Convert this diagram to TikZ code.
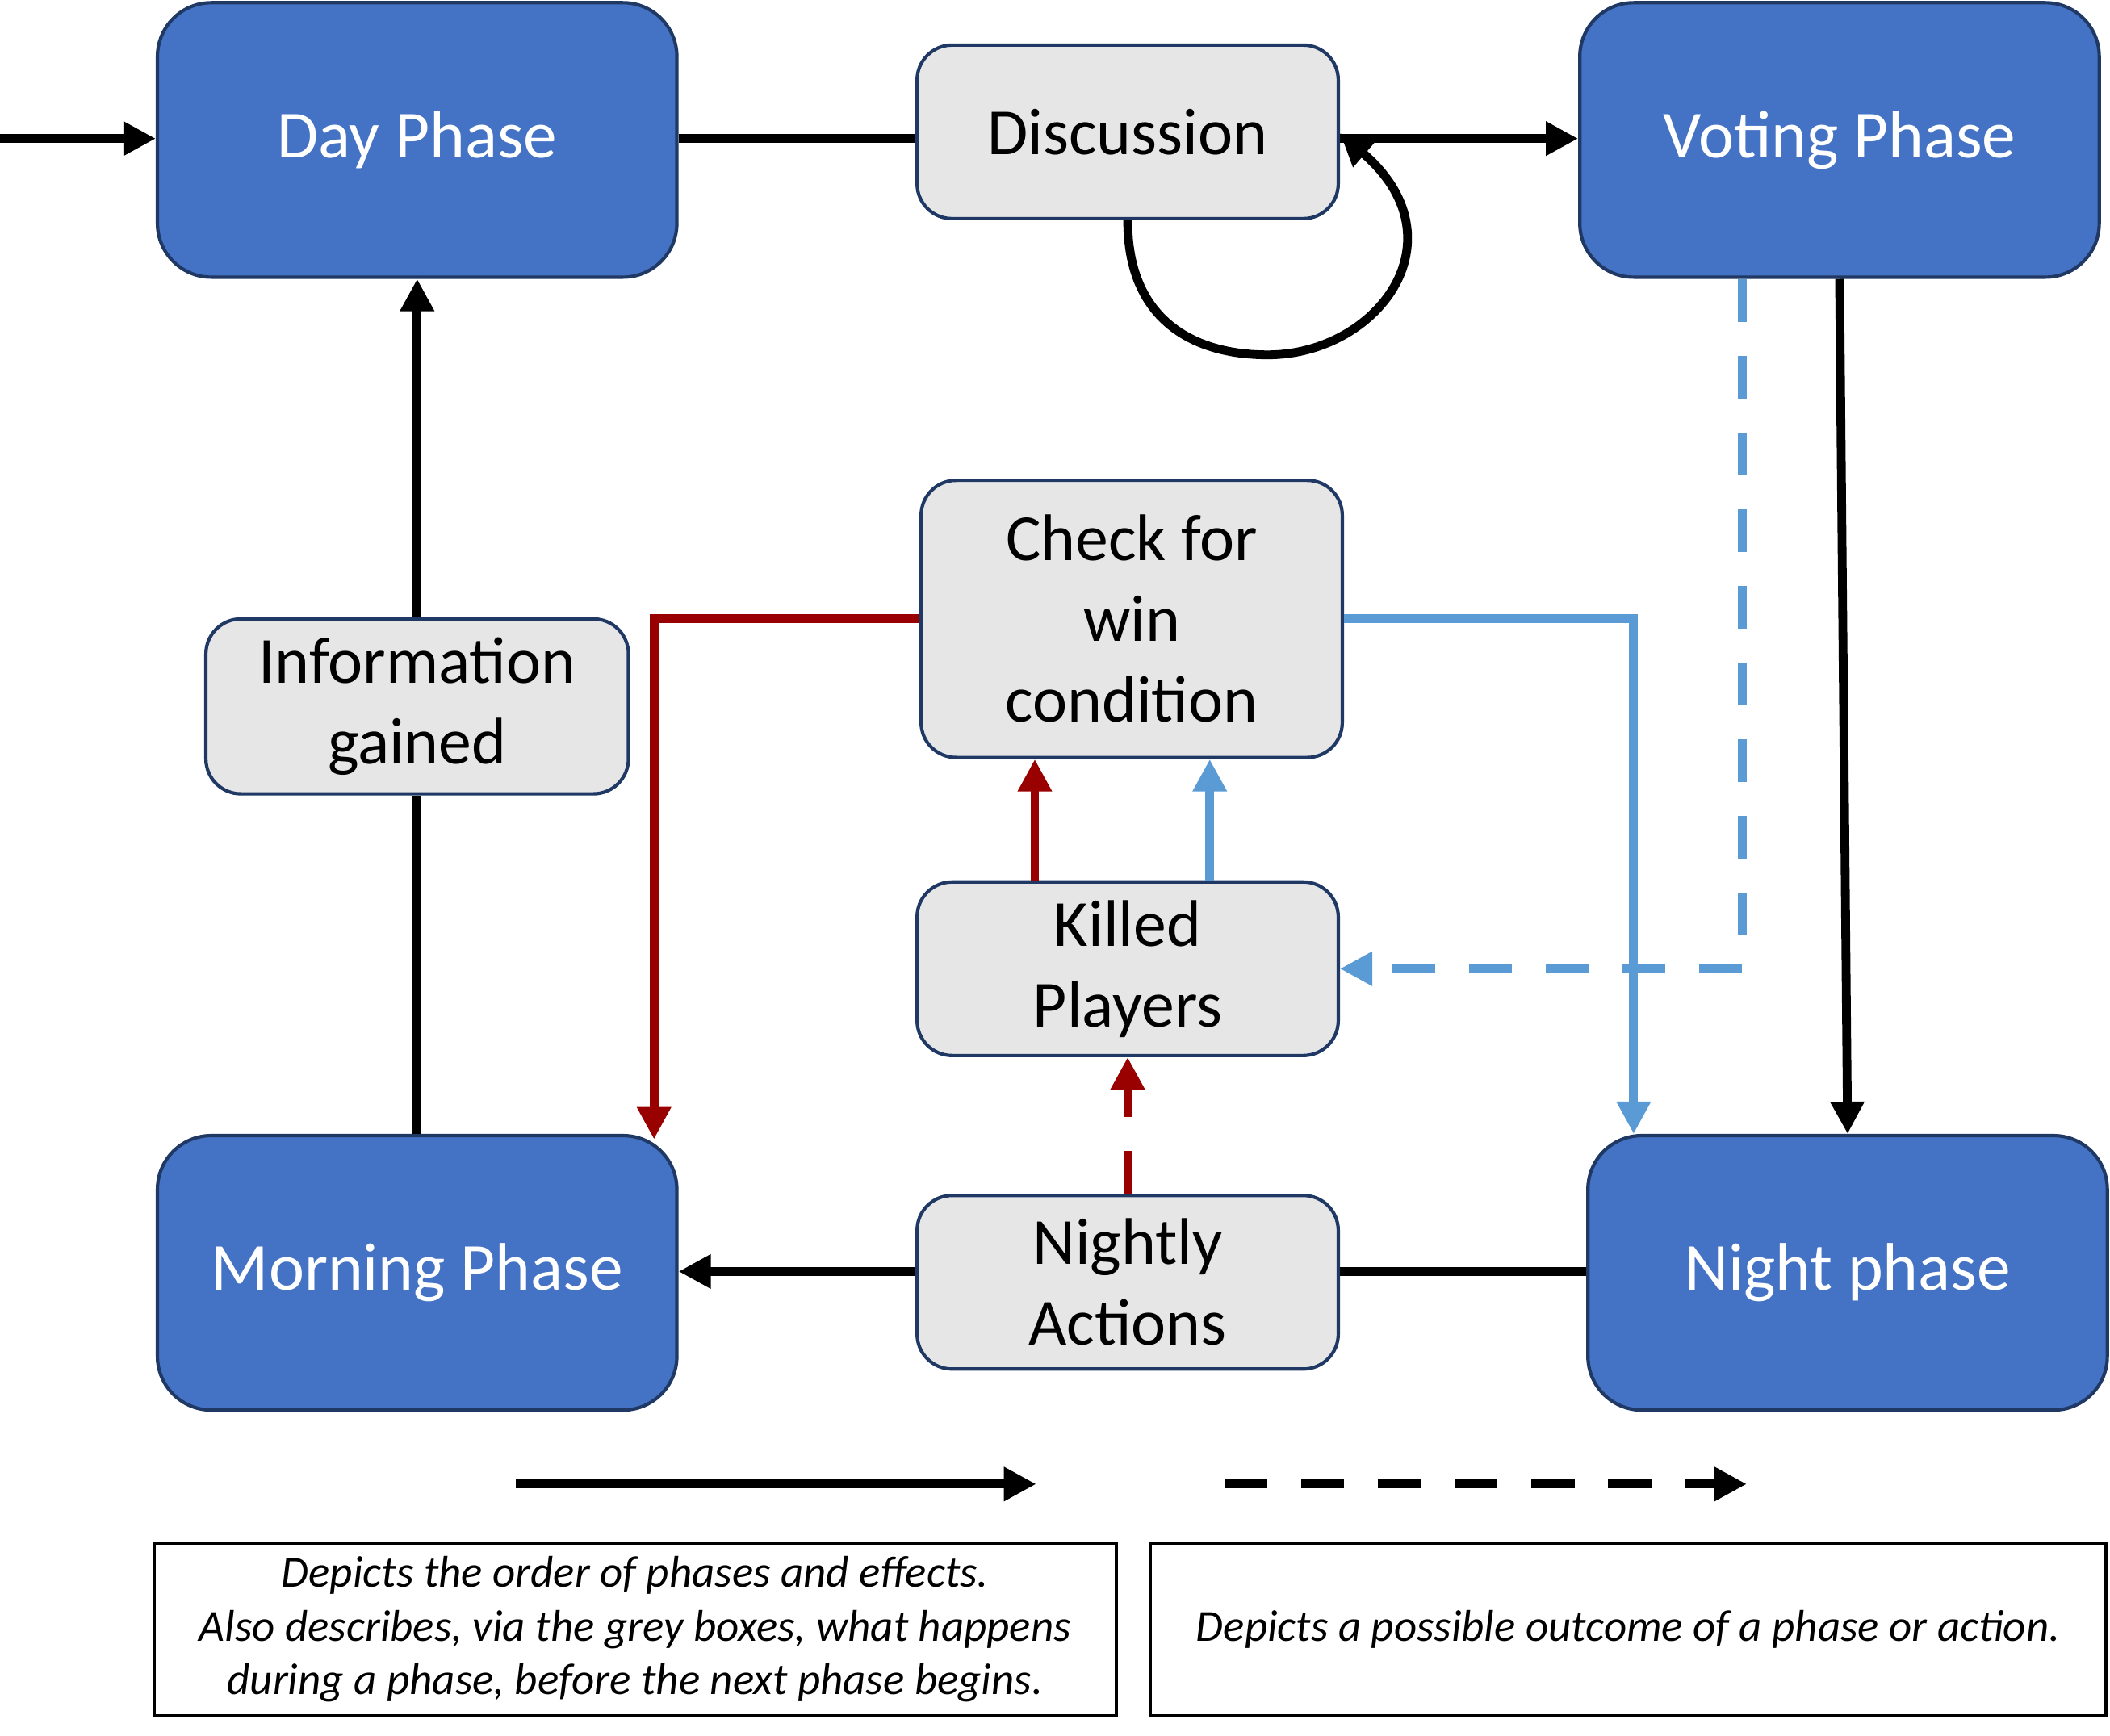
\documentclass[tikz,border=0pt]{standalone}
\usepackage{fontspec}
\setmainfont{Carlito}
\usetikzlibrary{arrows.meta,calc}
\definecolor{phaseblue}{HTML}{4472C4}
\definecolor{navy}{HTML}{1F3864}
\definecolor{greyfill}{HTML}{E6E6E6}
\definecolor{lineblue}{HTML}{5B9BD5}
\definecolor{darkred}{HTML}{990000}
\begin{document}
\begin{tikzpicture}[x=1pt,y=-1pt,
  phase/.style={rectangle,rounded corners=40pt,draw=navy,line width=2.5pt,fill=phaseblue,
    text=white,minimum width=386pt,minimum height=204pt,font=\fontsize{50}{60}\selectfont},
  greybox/.style={rectangle,rounded corners=26pt,draw=navy,line width=2.5pt,fill=greyfill,
    text=black,minimum width=313pt,minimum height=129pt,align=center,
    font=\fontsize{49}{60}\selectfont},
  legbox/.style={rectangle,draw=black,line width=2pt,minimum height=128pt,align=center,
    font=\fontsize{33}{40}\selectfont\itshape},
  tip/.style={-{Triangle[length=24pt,width=24pt]}},
  blk/.style={line width=6.5pt,black},
  blu/.style={line width=6.5pt,lineblue},
  rd/.style={line width=6.5pt,darkred},
  dsh/.style={dash pattern=on 32pt off 25pt}
]
\useasboundingbox (0,0) rectangle (1568,1290);

\node[phase] (day) at (310,104) {Day Phase};
\node[phase] (vote) at (1367,104) {Voting Phase};
\node[phase] (morning) at (310,946) {Morning Phase};
\node[phase] (night) at (1373,946) {Night phase};

\node[greybox] (disc) at (838,98) {Discussion};
\node[greybox,minimum height=206pt] (check) at (841,460) {Check for\\win\\condition};
\node[greybox,minimum width=314pt,minimum height=130pt] (info) at (310,525) {Information\\gained};
\node[greybox] (killed) at (838,720) {Killed\\Players};
\node[greybox] (nightly) at (838,953) {Nightly\\Actions};

\coordinate (start) at (0,103);

% main flow
\draw[blk,tip] (start) -- (day.west |- start);
\draw[blk] (day.east |- start) -- (disc.west |- start);
\draw[blk,tip] (disc.east |- start) -- (vote.west |- start);
\draw[blk,tip] (disc.south) .. controls ($(disc.south)+(0,75)$) and ($(disc.south)+(50,100)$) .. ($(disc.south)+(104,100)$)
  .. controls ($(disc.south)+(185,100)$) and ($(disc.south)+(250,15)$) .. ([yshift=-1pt]disc.east);
\draw[blk,tip] (vote.south) -- (night.north);
\draw[blk] (night.west |- 0,945) -- (nightly.east |- 0,945);
\draw[blk,tip] (nightly.west |- 0,945) -- (morning.east |- 0,945);
\draw[blk] (morning.north) -- (info.south);
\draw[blk,tip] (info.north) -- (day.south);

% possible outcomes
\draw[blu,dsh,tip] ([xshift=-72pt]vote.south) |- (killed.east);
\draw[blu,tip] (check.east) -| ([xshift=-159pt]night.north);
\draw[rd,tip] (check.west) -| ([xshift=176pt,yshift=-4pt]morning.north);
\draw[rd,tip] ([xshift=-69pt]killed.north) -- ([xshift=-69pt]killed.north |- check.south);
\draw[blu,tip] ([xshift=61pt]killed.north) -- ([xshift=61pt]killed.north |- check.south);
\draw[rd,dsh,tip] (nightly.north) -- (killed.south);

% legend
\coordinate (la) at (383,1103);
\coordinate (lb) at (770,1103);
\coordinate (lc) at (910,1103);
\coordinate (ld) at (1298,1103);
\draw[blk,tip] (la) -- (lb);
\draw[blk,dsh,tip] (lc) -- (ld);
\node[legbox,minimum width=715pt] (leg1) at (472,1211) {Depicts the order of phases and effects.\\Also describes, via the grey boxes, what happens\\during a phase, before the next phase begins.};
\node[legbox,minimum width=710pt] (leg2) at (1210,1211) {Depicts a possible outcome of a phase or action.};
\end{tikzpicture}
\end{document}
